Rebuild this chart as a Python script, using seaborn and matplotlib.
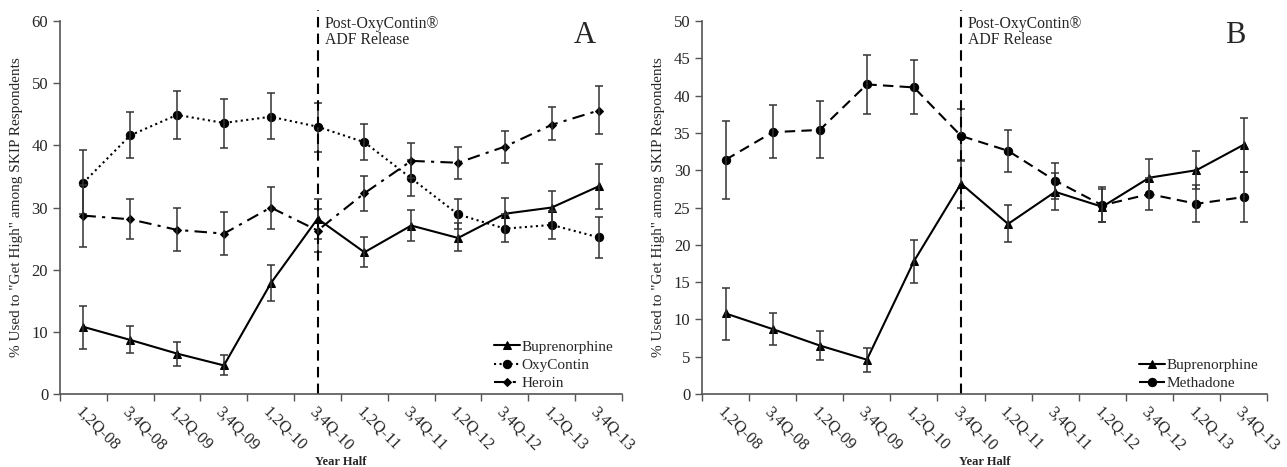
import numpy as np
import pandas as pd
import seaborn as sns
import matplotlib
matplotlib.use("Agg")
import matplotlib.pyplot as plt

sns.set_theme(style="white")
plt.rcParams['font.family'] = ['Liberation Serif', 'DejaVu Serif']

periods = ["1,2Q-08", "3,4Q-08", "1,2Q-09", "3,4Q-09", "1,2Q-10", "3,4Q-10",
           "1,2Q-11", "3,4Q-11", "1,2Q-12", "3,4Q-12", "1,2Q-13", "3,4Q-13"]

bup = [10.8, 8.7, 6.5, 4.6, 17.8, 28.2, 22.8, 27.1, 25.1, 29.0, 30.0, 33.4]
bup_lo = [7.3, 6.6, 4.5, 3.0, 14.9, 25.0, 20.4, 24.6, 23.0, 26.5, 27.5, 29.7]
bup_hi = [14.2, 10.9, 8.4, 6.2, 20.7, 31.4, 25.3, 29.6, 27.5, 31.5, 32.6, 37.0]

oxy = [34.0, 41.6, 44.9, 43.6, 44.6, 43.0, 40.5, 34.7, 28.9, 26.6, 27.2, 25.2]
oxy_lo = [29.0, 37.9, 41.0, 39.5, 41.0, 39.0, 37.6, 31.8, 26.5, 24.4, 24.9, 21.9]
oxy_hi = [39.2, 45.3, 48.8, 47.4, 48.4, 46.8, 43.4, 37.7, 31.3, 29.0, 29.4, 28.5]

her = [28.7, 28.1, 26.4, 25.8, 30.0, 26.3, 32.3, 37.5, 37.2, 39.8, 43.3, 45.6]
her_lo = [23.7, 25.0, 23.0, 22.4, 26.6, 22.8, 29.5, 34.8, 34.6, 37.2, 40.8, 41.8]
her_hi = [33.6, 31.4, 29.9, 29.3, 33.3, 29.7, 35.1, 40.3, 39.8, 42.3, 46.2, 49.5]

met = [31.4, 35.1, 35.4, 41.5, 41.1, 34.6, 32.6, 28.6, 25.3, 26.8, 25.5, 26.4]
met_lo = [26.2, 31.6, 31.7, 37.6, 37.5, 31.2, 29.8, 26.1, 23.0, 24.6, 23.1, 23.1]
met_hi = [36.6, 38.8, 39.3, 45.5, 44.8, 38.2, 35.4, 31.0, 27.7, 29.0, 28.0, 29.8]

fig = plt.figure(figsize=(12.87, 4.67), dpi=100)
axA = fig.add_axes([0.0466, 0.1563, 0.4367, 0.7987])
axB = fig.add_axes([0.5455, 0.1563, 0.4390, 0.7987])

x = np.arange(len(periods))

def draw_series(ax, vals, lo, hi, label, ls, marker, ms):
    df = pd.DataFrame({"period": x, "value": vals})
    sns.lineplot(data=df, x="period", y="value", ax=ax, color="black",
                 linestyle=ls, marker=marker, markersize=ms, linewidth=1.5,
                 markeredgecolor="black", label=label)
    v = np.array(vals); l = np.array(lo); h = np.array(hi)
    ax.errorbar(x, v, yerr=[v - l, h - v], fmt="none", ecolor="#333333",
                elinewidth=1.1, capsize=3, capthick=1.1)

def style_axis(ax, ymax, ystep, letter, letter_x):
    ax.set_xlim(-0.5, len(periods) - 0.5)
    ax.set_ylim(0, ymax)
    ax.set_yticks(np.arange(0, ymax + 0.1, ystep))
    ax.set_xticks(x)
    ax.set_xticklabels(periods, rotation=-45, ha="left", va="top",
                       rotation_mode="anchor", fontsize=12)
    ax.set_xticks(np.arange(-0.5, len(periods), 1.0), minor=True)
    ax.tick_params(axis="x", which="major", length=0, pad=7)
    ax.tick_params(axis="x", which="minor", length=5, width=1, color="#555555",
                   direction="out", bottom=True)
    ax.tick_params(axis="y", length=5, width=1, color="#555555", direction="out",
                   left=True, labelsize=12)
    for s in ["top", "right"]:
        ax.spines[s].set_visible(False)
    for s in ["left", "bottom"]:
        ax.spines[s].set_color("#555555")
        ax.spines[s].set_linewidth(1.2)
    ax.set_xlabel("Year Half", fontsize=9, fontweight="bold")
    ax.xaxis.set_label_coords(0.5, -0.165)
    ax.set_ylabel('% Used to "Get High" among SKIP Respondents', fontsize=11,
                  labelpad=6)
    ax.axvline(5, ymin=0, ymax=1.03, color="black", linestyle=(0, (5, 3)),
               linewidth=1.5, clip_on=False)
    ax.text(5.15, ymax * 1.014, "Post-OxyContin®\nADF Release", fontsize=11.3,
            va="top", ha="left", linespacing=1.05)
    ax.text(letter_x, ymax * 0.961, letter, fontsize=22, ha="center", va="center")
    ax.grid(False)

def legend(ax):
    ax.legend(loc="lower right", frameon=False, fontsize=11, handlelength=1.7,
              handletextpad=0.1, labelspacing=0.3, borderpad=0,
              borderaxespad=0, bbox_to_anchor=(0.985, 0.01))

draw_series(axA, bup, bup_lo, bup_hi, "Buprenorphine", "-", "^", 6)
draw_series(axA, oxy, oxy_lo, oxy_hi, "OxyContin", ":", "o", 6)
draw_series(axA, her, her_lo, her_hi, "Heroin", (0, (6, 3, 1.5, 3)), "D", 4)
style_axis(axA, 60, 10, "A", 10.71)
legend(axA)

draw_series(axB, bup, bup_lo, bup_hi, "Buprenorphine", "-", "^", 6)
draw_series(axB, met, met_lo, met_hi, "Methadone", (0, (5, 3)), "o", 6)
style_axis(axB, 50, 5, "B", 10.82)
legend(axB)

fig.savefig("out.png", dpi=100)
